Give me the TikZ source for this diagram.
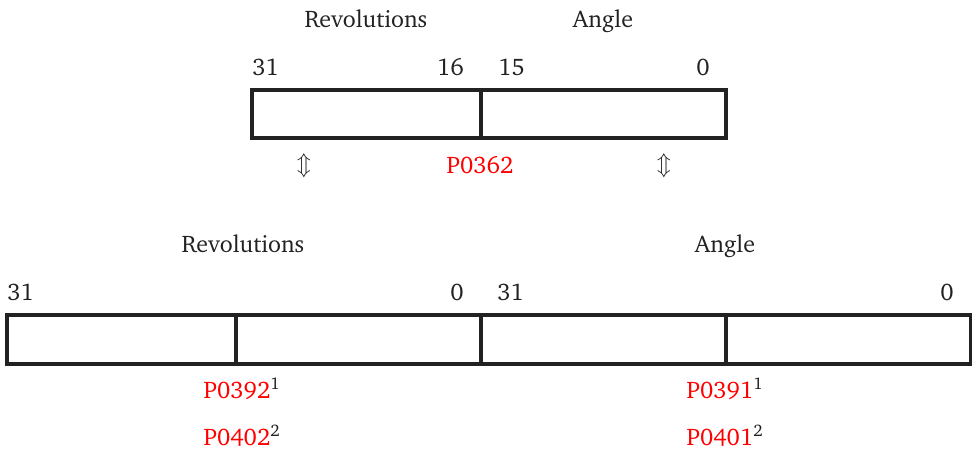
\documentclass[tikz,border=0pt]{standalone}
\usepackage[T1]{fontenc}
\usepackage{charter}
\usepackage{amssymb}
\definecolor{ink}{HTML}{222222}
\definecolor{pred}{HTML}{FF0000}
\begin{document}
\begin{tikzpicture}[x=0.75pt,y=-0.75pt,
  cell/.style={draw=ink,line width=2.3pt},
  lbl/.style={inner sep=0pt,text=ink,font=\fontsize{18}{22}\selectfont},
  reg/.style={inner sep=0pt,text=pred,font=\fontsize{18}{22}\selectfont},
  arr/.style={inner sep=0pt,text=ink,font=\fontsize{16}{20}\selectfont}]
\useasboundingbox (0,0) rectangle (972,450);
% top register
\path[cell] (252,90) rectangle (481,138);
\path[cell] (481,90) rectangle (726,138);
\node[lbl,anchor=base] (trev) at (366,27) {Revolutions};
\node[lbl,anchor=base] (tang) at (603,27) {Angle};
\node[lbl,anchor=base west] (t31) at (252,75) {31};
\node[lbl,anchor=base east] (t16) at (464,75) {16};
\node[lbl,anchor=base west] (t15) at (498,75) {15};
\node[lbl,anchor=base east] (t0) at (710,75) {0};
\node[arr] (a1) at (304,166) {$\Updownarrow$};
\node[arr] (a2) at (664,166) {$\Updownarrow$};
\node[reg,anchor=base] (p362) at (480,173) {P0362};
% bottom registers
\path[cell] (7,315) rectangle (236,364);
\path[cell] (236,315) rectangle (481,364);
\path[cell] (481,315) rectangle (726,364);
\path[cell] (726,315) rectangle (971,364);
\node[lbl,anchor=base] (brev) at (243,252) {Revolutions};
\node[lbl,anchor=base] (bang) at (725,252) {Angle};
\node[lbl,anchor=base west] (b31a) at (7,300) {31};
\node[lbl,anchor=base east] (b0a) at (464,300) {0};
\node[lbl,anchor=base west] (b31b) at (497,300) {31};
\node[lbl,anchor=base east] (b0b) at (954,300) {0};
\node[reg,anchor=base] (p392) at (242,398) {P0392\textcolor{ink}{\textsuperscript{1}}};
\node[reg,anchor=base] (p402) at (242,445) {P0402\textcolor{ink}{\textsuperscript{2}}};
\node[reg,anchor=base] (p391) at (725,398) {P0391\textcolor{ink}{\textsuperscript{1}}};
\node[reg,anchor=base] (p401) at (725,445) {P0401\textcolor{ink}{\textsuperscript{2}}};
\end{tikzpicture}
\end{document}
